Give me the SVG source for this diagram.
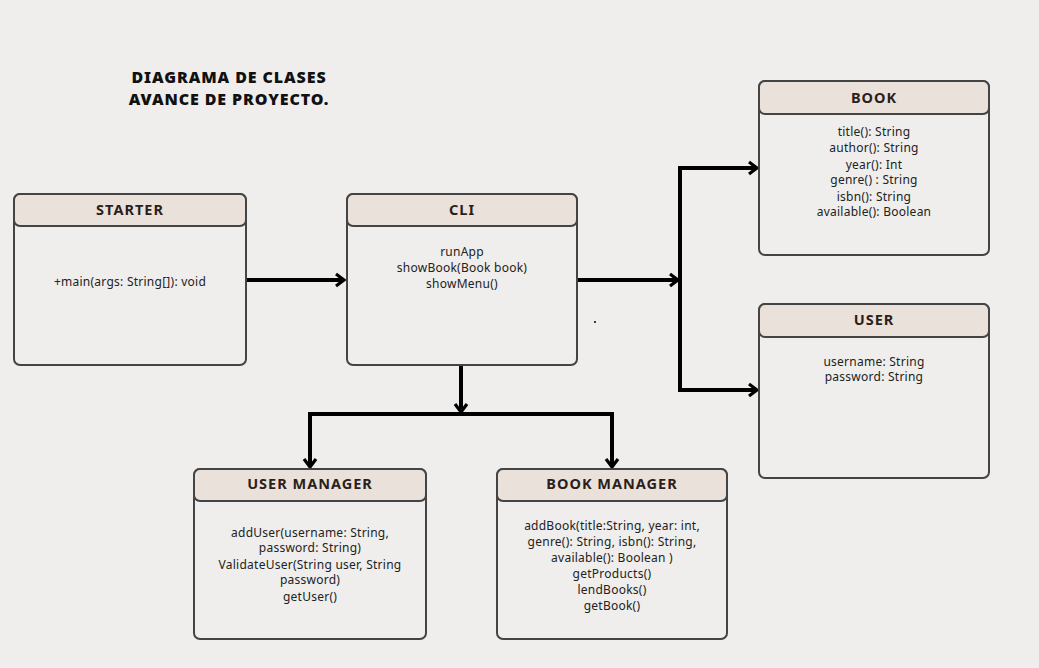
<svg xmlns="http://www.w3.org/2000/svg" width="1039" height="668" viewBox="0 0 1039 668">
<style>
.bg{fill:#efeeec}
.box{fill:#efeeec;stroke:#444;stroke-width:2}
.hdr{fill:#ebe1db;stroke:#444;stroke-width:2}
.ht{font-family:"Noto Sans","Liberation Sans",sans-serif;font-weight:bold;font-size:14.5px;letter-spacing:1px;fill:#2a1f1a;text-anchor:middle}
.bt{font-family:"Noto Sans","Liberation Sans",sans-serif;font-size:12px;letter-spacing:0.25px;fill:#222;text-anchor:middle}
.title{font-family:"Noto Sans","Liberation Sans",sans-serif;font-weight:900;font-size:16px;letter-spacing:0.9px;fill:#111;text-anchor:middle}
.ln{fill:none;stroke:#000;stroke-width:4}
</style>
<defs>
<marker id="arr" viewBox="0 0 12 16" refX="10" refY="8" markerWidth="12" markerHeight="16" markerUnits="userSpaceOnUse" orient="auto">
<path d="M2 2 L10 8 L2 14" fill="none" stroke="#000" stroke-width="3.2"/>
</marker>
</defs>
<rect class="bg" x="0" y="0" width="1039" height="668"/>
<g id="title">
<text class="title" x="229" y="83">DIAGRAMA DE CLASES</text>
<text class="title" x="229" y="105">AVANCE DE PROYECTO.</text>
</g>
<g id="connectors">
<line class="ln" x1="246" y1="280" x2="344" y2="280" marker-end="url(#arr)"/>
<line class="ln" x1="577" y1="280" x2="678" y2="280" marker-end="url(#arr)"/>
<polyline class="ln" points="757,168 680,168 680,390 757,390" marker-end="url(#arr)"/>
<line class="ln" x1="680" y1="168" x2="757" y2="168" marker-end="url(#arr)"/>
<line class="ln" x1="461" y1="365" x2="461" y2="412" marker-end="url(#arr)"/>
<polyline class="ln" points="310,467 310,414 612,414 612,467" marker-end="url(#arr)"/>
<line class="ln" x1="310" y1="414" x2="310" y2="467" marker-end="url(#arr)"/>
<circle cx="595" cy="322" r="1" fill="#000"/>
</g>
<g id="starter">
<rect class="box" x="14" y="194" width="232" height="171" rx="6"/>
<rect class="hdr" x="14" y="194" width="232" height="32" rx="6"/>
<text class="ht" x="130" y="215">STARTER</text>
<text class="bt" x="130" y="286">+main(args: String[]): void</text>
</g>
<g id="cli">
<rect class="box" x="347" y="194" width="230" height="171" rx="6"/>
<rect class="hdr" x="347" y="194" width="230" height="32" rx="6"/>
<text class="ht" x="462" y="215">CLI</text>
<text class="bt" x="462" y="256">runApp</text>
<text class="bt" x="462" y="272">showBook(Book book)</text>
<text class="bt" x="462" y="288">showMenu()</text>
</g>
<g id="book">
<rect class="box" x="759" y="81" width="230" height="174" rx="6"/>
<rect class="hdr" x="759" y="81" width="230" height="33" rx="6"/>
<text class="ht" x="874" y="103">BOOK</text>
<text class="bt" x="874" y="136">title(): String</text>
<text class="bt" x="874" y="152">author(): String</text>
<text class="bt" x="874" y="169">year(): Int</text>
<text class="bt" x="874" y="184">genre() :  String</text>
<text class="bt" x="874" y="201">isbn(): String</text>
<text class="bt" x="874" y="216">available(): Boolean</text>
</g>
<g id="user">
<rect class="box" x="759" y="304" width="230" height="174" rx="6"/>
<rect class="hdr" x="759" y="304" width="230" height="33" rx="6"/>
<text class="ht" x="874" y="325">USER</text>
<text class="bt" x="874" y="366">username: String</text>
<text class="bt" x="874" y="381">password: String</text>
</g>
<g id="user-manager">
<rect class="box" x="194" y="469" width="232" height="170" rx="6"/>
<rect class="hdr" x="194" y="469" width="232" height="32" rx="6"/>
<text class="ht" x="310" y="489">USER MANAGER</text>
<text class="bt" x="310" y="537">addUser(username: String,</text>
<text class="bt" x="310" y="552">password: String)</text>
<text class="bt" x="310" y="569">ValidateUser(String user, String</text>
<text class="bt" x="310" y="584">password)</text>
<text class="bt" x="310" y="601">getUser()</text>
</g>
<g id="book-manager">
<rect class="box" x="497" y="469" width="230" height="170" rx="6"/>
<rect class="hdr" x="497" y="469" width="230" height="32" rx="6"/>
<text class="ht" x="612" y="489">BOOK MANAGER</text>
<text class="bt" x="612" y="530">addBook(title:String, year: int,</text>
<text class="bt" x="612" y="546">genre(): String, isbn(): String,</text>
<text class="bt" x="612" y="562">available(): Boolean )</text>
<text class="bt" x="612" y="578">getProducts()</text>
<text class="bt" x="612" y="594">lendBooks()</text>
<text class="bt" x="612" y="610">getBook()</text>
</g>
</svg>
